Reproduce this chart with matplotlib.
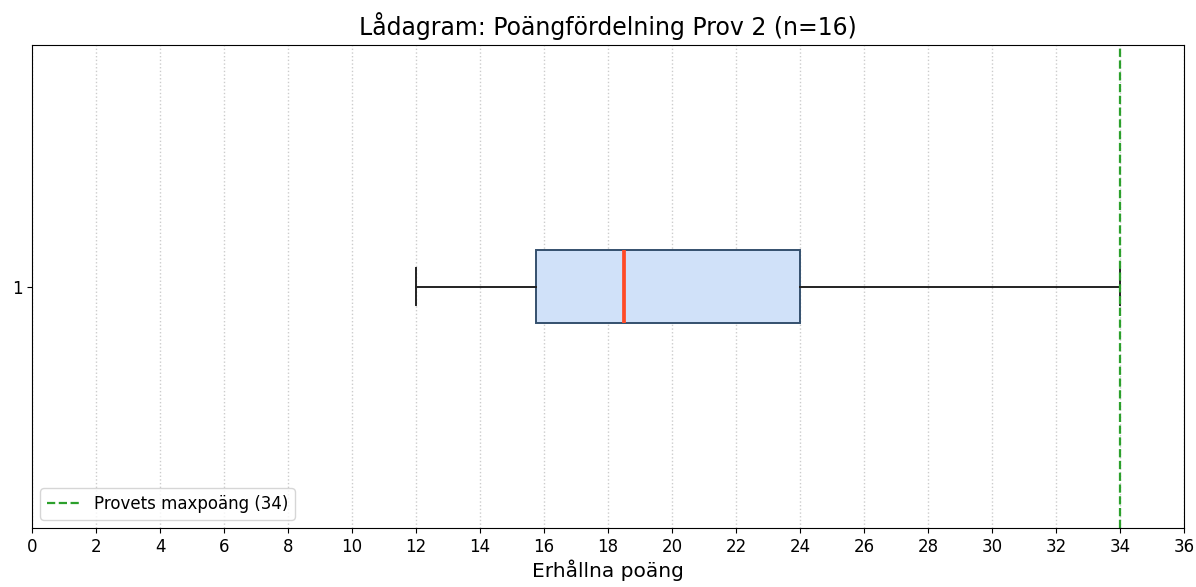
import matplotlib.pyplot as plt
import numpy as np

# statistik avläst från lådagrammet
whislo = 12
q1 = 15.75
med = 18.5
q3 = 24
whishi = 34
n = 16
maxpoang = 34
xticks = np.arange(0, 37, 2)

stats = [{'whislo': whislo, 'q1': q1, 'med': med, 'q3': q3, 'whishi': whishi,
          'fliers': [], 'label': '1'}]

fig = plt.figure(figsize=(11.96, 5.87), dpi=100)
ax = fig.add_axes([32 / 1196, 1 - 528 / 587, (1184 - 32) / 1196, (528 - 45) / 587])

ax.bxp(stats, vert=False, widths=0.15, patch_artist=True,
       boxprops=dict(facecolor='#d0e1f9', edgecolor='#34506e', linewidth=1.4),
       medianprops=dict(color='#ff4a26', linewidth=2.7),
       whiskerprops=dict(color='#222222', linewidth=1.4),
       capprops=dict(color='#222222', linewidth=1.4))

ax.axvline(maxpoang, color='#2ca02c', linestyle='--', linewidth=1.6,
           label=f'Provets maxpoäng ({maxpoang})')

ax.set_xlim(0, 36)
ax.set_ylim(0.5, 1.5)
ax.set_xticks(xticks)
ax.tick_params(labelsize=12)
ax.grid(axis='x', linestyle=':', color='#cccccc', linewidth=1.0)
ax.set_axisbelow(True)

ax.set_title(f'Lådagram: Poängfördelning Prov 2 (n={n})', fontsize=17, pad=7)
ax.set_xlabel('Erhållna poäng', fontsize=14.5, labelpad=3)
ax.legend(loc='lower left', fontsize=12)

fig.savefig('out.png', dpi=100)
